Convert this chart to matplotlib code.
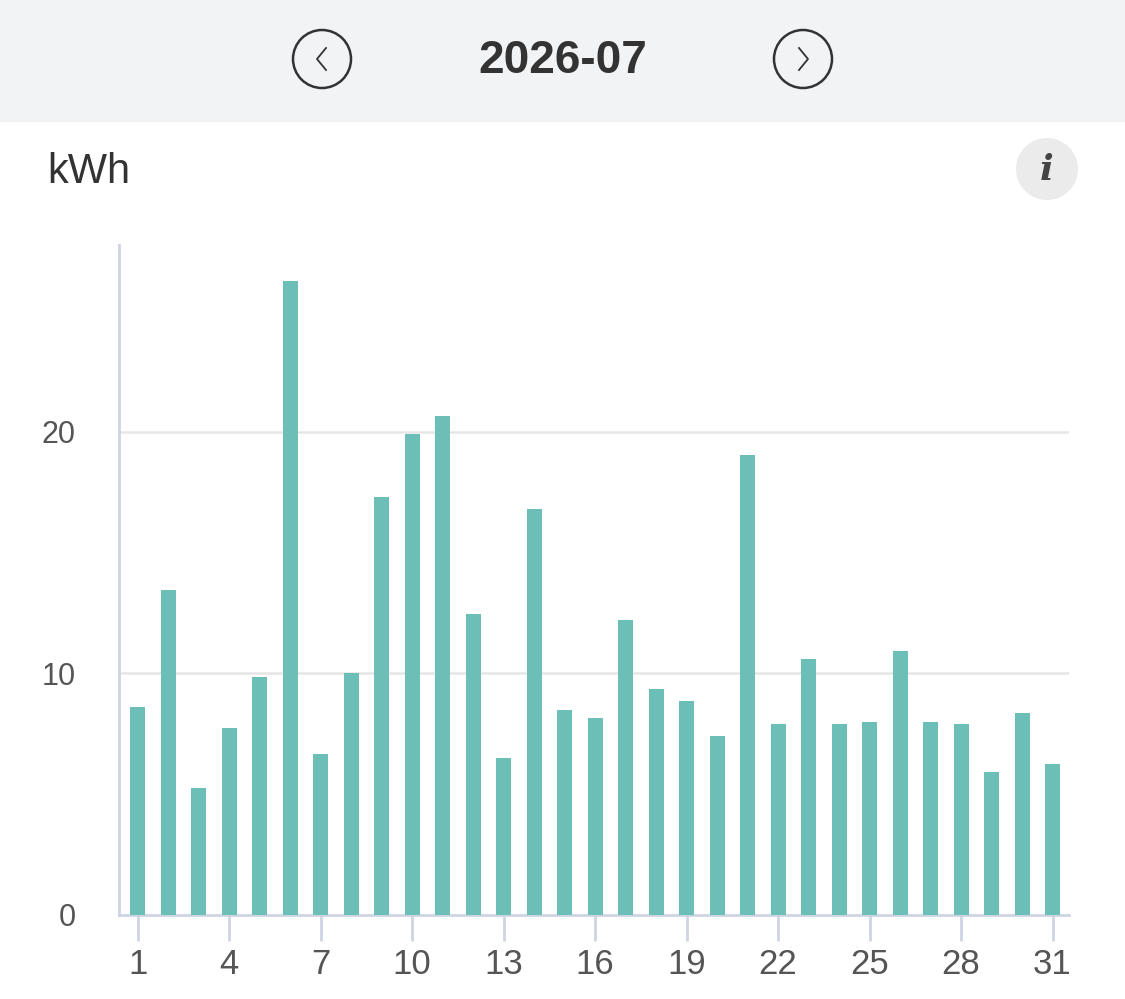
import matplotlib
matplotlib.use("Agg")
import matplotlib.pyplot as plt
from matplotlib.patches import Circle, Rectangle
import numpy as np

plt.rcParams['font.family'] = ['Liberation Sans', 'DejaVu Sans']

# daily energy use, July 2026 (kWh)
days = list(range(1, 32))
kwh = [8.6, 13.45, 5.25, 7.75, 9.85, 26.25, 6.65, 10.0, 17.3, 19.9,
       20.65, 12.45, 6.5, 16.8, 8.5, 8.15, 12.2, 9.35, 8.85, 7.4,
       19.05, 7.9, 10.6, 7.9, 8.0, 10.95, 8.0, 7.9, 5.9, 8.35, 6.25]
month_label = "2026-07"
unit_label = "kWh"
xtick_days = list(range(1, 32, 3))
ytick_vals = [0, 10, 20]

W, H = 1125, 999
fig = plt.figure(figsize=(W / 100, H / 100), dpi=100)
fig.patch.set_facecolor("white")

# overlay in pixel coords for the page chrome
ov = fig.add_axes([0, 0, 1, 1])
ov.set_xlim(0, W)
ov.set_ylim(H, 0)
ov.axis("off")
ov.add_patch(Rectangle((0, 0), W, 121, color="#f2f3f5", zorder=0))
ov.text(563, 61, month_label, ha="center", va="center", fontsize=33,
        fontweight="bold", color="#333333")
for cx, d in [(322, -1), (803, 1)]:
    ov.add_patch(Circle((cx, 59), 29, fill=False, lw=1.8, ec="#333333"))
    ov.plot([cx - 4 * d, cx + 5 * d, cx - 4 * d], [48, 59, 70],
            color="#333333", lw=1.3)
ov.text(47, 172, unit_label, ha="left", va="center", fontsize=30, color="#333333")
ov.add_patch(Circle((1047, 169), 31, color="#ebebeb", lw=0))
ov.text(1047, 170, "i", ha="center", va="center", fontsize=26,
        fontweight="bold", fontstyle="italic", family="DejaVu Serif",
        color="#444444")

# the chart
ax = fig.add_axes([119 / W, (H - 915) / H, (1069 - 119) / W, (915 - 245) / H])
ax.bar(days, kwh, width=0.49, color="#6bbfb7", zorder=3)
ax.set_xlim(0.39, 31.54)
ax.set_ylim(0, 27.74)

axis_c = "#cdd4e2"
for s in ["top", "right"]:
    ax.spines[s].set_visible(False)
for s in ["left", "bottom"]:
    ax.spines[s].set_color(axis_c)
    ax.spines[s].set_linewidth(2)

ax.set_xticks(xtick_days)
ax.set_yticks(ytick_vals)
ax.tick_params(axis="x", length=19, width=2, color=axis_c, pad=5,
               labelsize=25, labelcolor="#555555")
ax.tick_params(axis="y", length=0, pad=31, labelsize=22, labelcolor="#555555")
for v in ytick_vals[1:]:
    ax.axhline(v, color="#e6e6e6", lw=1.8, zorder=1)

fig.savefig("out.png", dpi=100)
